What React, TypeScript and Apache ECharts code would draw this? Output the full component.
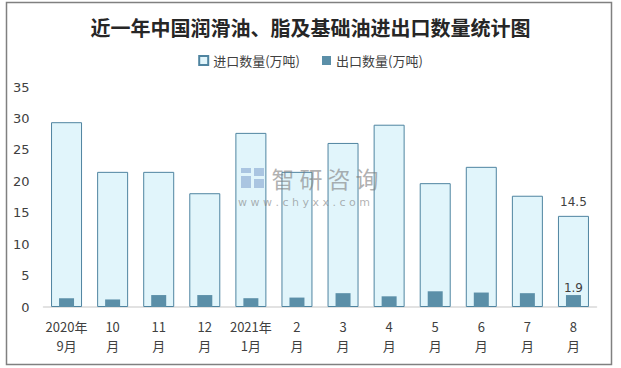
import React, { useEffect, useRef } from "react";
import * as echarts from "echarts";

const categories = ["2020年\n9月", "10\n月", "11\n月", "12\n月", "2021年\n1月", "2\n月", "3\n月", "4\n月", "5\n月", "6\n月", "7\n月", "8\n月"];
const importValues = [29.4, 21.5, 21.5, 18.1, 27.7, 21.5, 26.1, 29.0, 19.7, 22.3, 17.7, 14.5];
const exportValues = [1.4, 1.2, 1.9, 1.9, 1.4, 1.5, 2.2, 1.7, 2.5, 2.3, 2.2, 1.9];
const seriesNames = ["进口数量(万吨)", "出口数量(万吨)"];
const titleText = "近一年中国润滑油、脂及基础油进出口数量统计图";
const watermarkChars = ["智", "研", "咨", "询"];

export default function App() {
  const ref = useRef<HTMLDivElement>(null);
  useEffect(() => {
    if (!ref.current) return;
    const chart = echarts.init(ref.current, undefined, { renderer: "svg" });
    const last = importValues.length - 1;
    const labelStyle = { show: true, position: "top", color: "#404040", fontSize: 12, fontFamily: "DejaVu Sans" };
    const wmFill = "rgba(125,125,125,0.6)";
    const logoFill = "rgba(140,170,210,0.65)";
    const logoRects = [
      [241, 168, 10, 5],
      [241, 176, 10, 12],
      [254, 168, 10, 8],
      [254, 179, 10, 9],
    ];
    chart.setOption({
      animation: false,
      backgroundColor: "#ffffff",
      title: {
        text: titleText,
        left: "center",
        top: 12,
        textStyle: { fontSize: 20, fontWeight: "bold", color: "#262626", fontFamily: "Noto Sans CJK SC" },
      },
      legend: {
        top: 49,
        left: "center",
        itemWidth: 9,
        itemHeight: 9,
        itemGap: 22,
        icon: "rect",
        textStyle: { fontSize: 13, color: "#404040", fontFamily: "Noto Sans CJK SC" },
        data: seriesNames,
      },
      grid: { left: 43.5, right: 24.5, top: 87, bottom: 61, outerBoundsMode: "none", containLabel: false },
      xAxis: [
        {
          type: "category",
          data: categories,
          axisLine: { lineStyle: { color: "#D9D9D9", width: 1.5 } },
          axisTick: { show: false },
          axisLabel: { color: "#404040", fontSize: 13, lineHeight: 19, margin: 10, interval: 0, fontFamily: "Noto Sans CJK SC" },
        },
        {
          type: "category",
          data: categories,
          position: "bottom",
          show: false,
        },
      ],
      yAxis: {
        type: "value",
        min: 0,
        max: 35,
        interval: 5,
        axisLine: { show: false },
        axisTick: { show: false },
        splitLine: { show: false },
        axisLabel: { color: "#404040", fontSize: 13, margin: 14, fontFamily: "DejaVu Sans" },
      },
      series: [
        {
          name: seriesNames[0],
          type: "bar",
          xAxisIndex: 0,
          barWidth: 31,
          itemStyle: { color: "#E1F5FB", borderColor: "#4F84A0", borderWidth: 1 },
          data: importValues.map((v, i) => (i === last ? { value: v, label: { ...labelStyle, distance: 8 } } : v)),
          z: 2,
        },
        {
          name: seriesNames[1],
          type: "bar",
          xAxisIndex: 1,
          barWidth: 15,
          itemStyle: { color: "#5B8FA8" },
          data: exportValues.map((v, i) => (i === last ? { value: v, label: { ...labelStyle, distance: 1 } } : v)),
          z: 3,
        },
      ],
      graphic: [
        {
          type: "rect",
          shape: { x: 6.5, y: 2.5, width: 605, height: 362 },
          style: { fill: "none", stroke: "#808080", lineWidth: 1.5 },
          silent: true,
        },
        ...logoRects.map((r) => ({
          type: "rect",
          silent: true,
          z: 10,
          shape: { x: r[0], y: r[1], width: r[2], height: r[3] },
          style: { fill: logoFill },
        })),
        ...watermarkChars.map((ch, i) => ({
          type: "text",
          silent: true,
          z: 10,
          style: {
            x: 283 + i * 28,
            y: 178,
            text: ch,
            fontSize: 23,
            lineHeight: 23,
            align: "center",
            verticalAlign: "middle",
            fill: wmFill,
            fontFamily: "Noto Sans CJK SC",
          },
        })),
        {
          type: "text",
          silent: true,
          z: 10,
          style: {
            x: 304,
            y: 202,
            text: "w w w . c h y x x . c o m",
            fontSize: 11,
            lineHeight: 11,
            align: "center",
            verticalAlign: "middle",
            fill: wmFill,
            fontFamily: "DejaVu Sans",
          },
        },
      ],
    });
    return () => chart.dispose();
  }, []);
  return <div ref={ref} style={{ position: "fixed", left: 0, top: 0, width: 621, height: 368 }} />;
}
